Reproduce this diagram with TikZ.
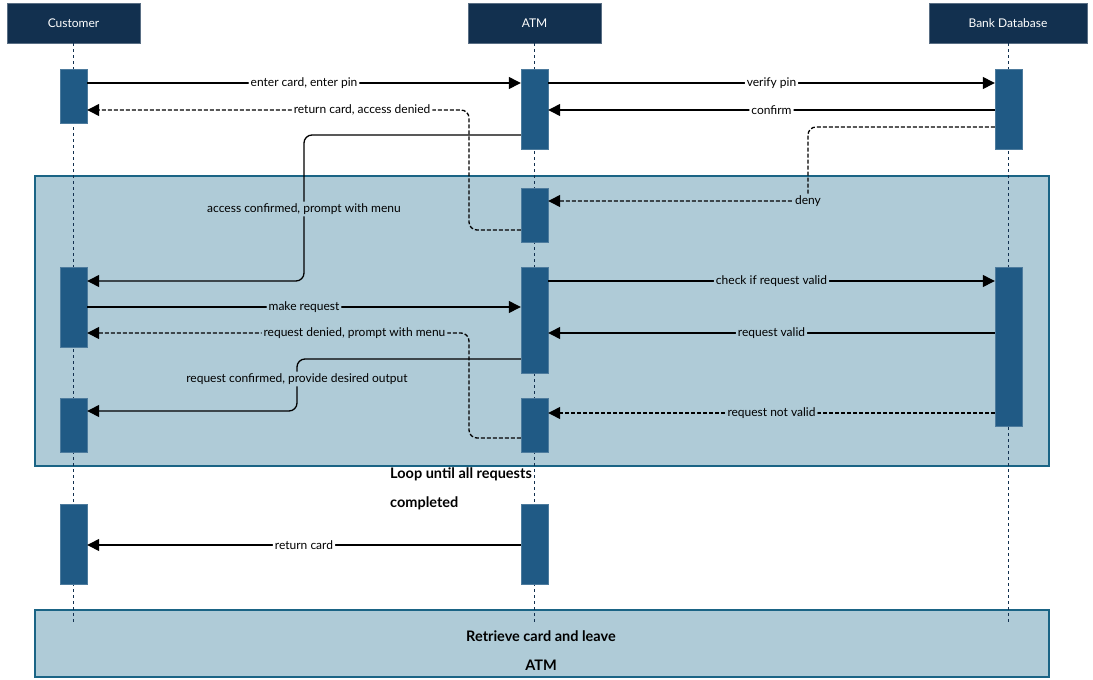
\documentclass[tikz,border=0pt]{standalone}
\usepackage{fontspec}
\setmainfont{Lato}
\usetikzlibrary{arrows.meta}
\definecolor{hdr}{HTML}{12304F}
\definecolor{act}{HTML}{205A85}
\definecolor{loopf}{HTML}{AFCBD7}
\definecolor{loopd}{HTML}{1A6485}
\begin{document}
\begin{tikzpicture}[x=1pt,y=-1pt,
  hd/.style={fill=hdr,draw=hdr!70,text=white,minimum width=133pt,minimum height=40pt,inner sep=0pt,font=\fontsize{12}{14}\selectfont},
  ac/.style={fill=act,draw=act!80,minimum width=27pt,inner sep=0pt},
  life/.style={draw=hdr,dashed,thick},
  msg/.style={line width=1.3pt,-{Triangle[length=12pt,width=12pt]},rounded corners=8pt},
  rep/.style={msg,dash pattern=on 4pt off 2pt},
  lb/.style={fill=white,inner sep=2pt,font=\fontsize{12}{14}\selectfont},
  lbl/.style={lb,fill=loopf},
  frame/.style={fill=loopf,draw=loopd,line width=1.5pt}]
\useasboundingbox (0,0) rectangle (1093,680);
% frames
\node[frame,minimum width=1014pt,minimum height=290pt,inner sep=0pt,anchor=north west] (loop) at (34,175) {};
\node[frame,minimum width=1014pt,minimum height=67pt,inner sep=0pt,anchor=north west] (leave) at (34,609) {};
% headers
\node[hd] (cu) at (73.5,23) {Customer};
\node[hd] (atm) at (534.5,23) {ATM};
\node[hd,minimum width=158pt] (db) at (1008,23) {Bank Database};
\coordinate (cuE) at (73.5,624);
\coordinate (atmE) at (534.5,624);
\coordinate (dbE) at (1008,624);
\draw[life] (cu) -- (cuE);
\draw[life] (atm) -- (atmE);
\draw[life] (db) -- (dbE);
% activations
\newcommand{\actbox}[4]{\node[ac,minimum height=#4-#3] (#1) at (#2,{(#3+#4)/2}) {};}
\actbox{c1}{73.5}{69}{123}
\actbox{c2}{73.5}{267}{347}
\actbox{c3}{73.5}{398}{452}
\actbox{c4}{73.5}{504}{584}
\actbox{a1}{534.5}{69}{149}
\actbox{a2}{534.5}{188}{242}
\actbox{a3}{534.5}{267}{373}
\actbox{a4}{534.5}{398}{452}
\actbox{a5}{534.5}{504}{584}
\actbox{d1}{1008.5}{69}{149}
\actbox{d2}{1008.5}{267}{426}
% messages
\draw[msg] (c1.east |- 0,83) -- node[lb,pos=0.5]{enter card, enter pin} (a1.west |- 0,83);
\draw[msg] (a1.east |- 0,83) -- node[lb]{verify pin} (d1.west |- 0,83);
\draw[msg] (d1.west |- 0,110) -- node[lb]{confirm} (a1.east |- 0,110);
\draw[rep] (a2.west |- 0,230) -| (469,110) -- node[lb,pos=0.28]{return card, access denied} (c1.east |- 0,110);
\draw[msg] (a1.west |- 0,135) -| (304,209) node[lbl]{access confirmed, prompt with menu} |- (c2.east |- 0,281);
\draw[rep] (d1.west |- 0,127) -| (808,201) node[lbl]{deny} -- (a2.east |- 0,201);
\draw[msg] (a3.east |- 0,281) -- node[lbl]{check if request valid} (d2.west |- 0,281);
\draw[msg] (c2.east |- 0,307) -- node[lbl]{make request} (a3.west |- 0,307);
\draw[rep] (a4.west |- 0,438) -| (469,333) -- node[lbl,pos=0.3]{request denied, prompt with menu} (c2.east |- 0,333);
\draw[msg] (d2.west |- 0,333) -- node[lbl]{request valid} (a3.east |- 0,333);
\draw[msg] (a3.west |- 0,359) -| (297,379) node[lbl]{request confirmed, provide desired output} |- (c3.east |- 0,411);
\draw[rep] (d2.west |- 0,413) -- node[lbl]{request not valid} (a4.east |- 0,413);
\draw[msg] (a5.west |- 0,545) -- node[lb]{return card} (c4.east |- 0,545);
% frame labels
\node[anchor=north west,align=left,inner sep=0pt,font=\fontsize{14.5}{29}\selectfont\bfseries] (looplbl) at (390,468) {Loop until all requests\\completed};
\node[align=center,inner sep=0pt,font=\fontsize{14.5}{29}\selectfont\bfseries,anchor=north] (leavelbl) at (541,631) {Retrieve card and leave\\ATM};
\end{tikzpicture}
\end{document}
